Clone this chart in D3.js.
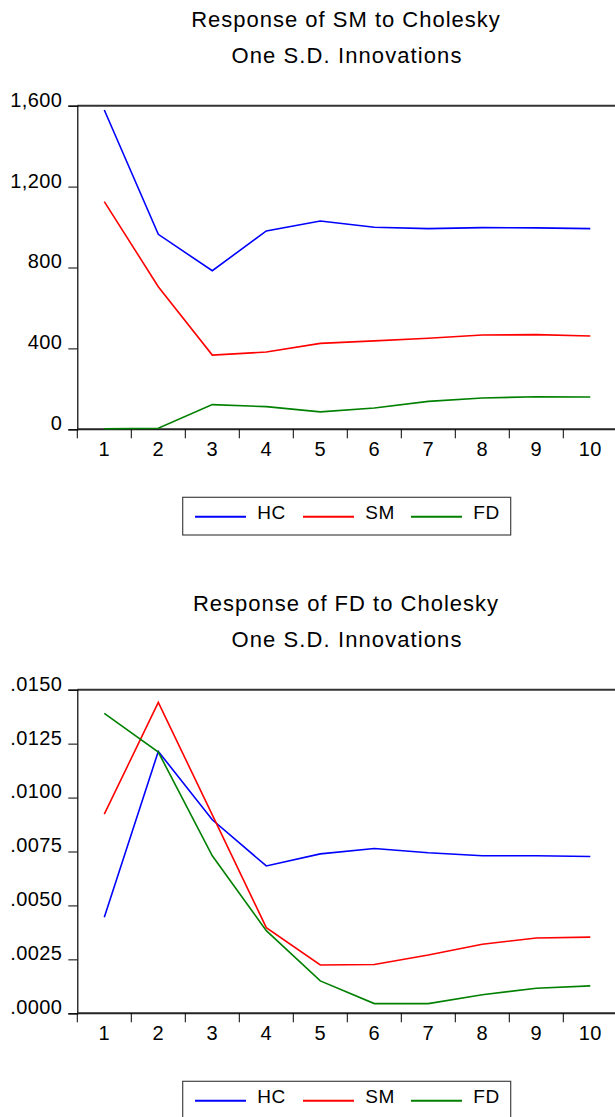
<!DOCTYPE html>
<html>
<head>
<meta charset="utf-8">
<script src="https://cdn.jsdelivr.net/npm/d3@7"></script>
<style>
  html, body { margin: 0; padding: 0; background: #fff; }
  svg { display: block; font-family: "Liberation Sans", Arial, sans-serif; }
</style>
</head>
<body>
<svg id="chart" width="615" height="1117"></svg>
<script>
// periods on the x axis
const periods = [1, 2, 3, 4, 5, 6, 7, 8, 9, 10];
const seriesNames = ['HC', 'SM', 'FD'];
const seriesColors = ['#0000FF', '#FF0000', '#008000'];

// Response of SM
const smHC = [1579, 964, 784, 981, 1030, 999, 992, 997, 996, 992];
const smSM = [1126, 705, 367, 382, 425, 437, 450, 466, 468, 461];
const smFD = [3, 5, 122, 112, 86, 105, 138, 155, 161, 160];
const smTicks = [0, 400, 800, 1200, 1600];

// Response of FD
const fdHC = [0.00445, 0.01214, 0.00897, 0.00683, 0.00739, 0.00764, 0.00744, 0.0073, 0.0073, 0.00727];
const fdSM = [0.00923, 0.01441, 0.0092, 0.00397, 0.00224, 0.00226, 0.0027, 0.0032, 0.00349, 0.00353];
const fdFD = [0.0139, 0.01211, 0.0073, 0.00383, 0.0015, 0.00045, 0.00045, 0.00086, 0.00116, 0.00127];
const fdTicks = [0, 0.0025, 0.005, 0.0075, 0.01, 0.0125, 0.015];

const svg = d3.select('#chart');

function drawPanel(offsetY, cfg) {
  const left = 77.3, right = 617.3, top = 105.7, bottom = 429.3;
  const g = svg.append('g').attr('transform', `translate(0,${offsetY})`);

  const x = d3.scaleBand().domain(periods).range([left, right]);
  const y = d3.scaleLinear().domain(cfg.domain).range([bottom, top]);

  // title
  g.append('text').attr('x', 346).attr('y', 27)
    .attr('text-anchor', 'middle').attr('font-size', '22px').attr('letter-spacing', '1px')
    .attr('fill', '#000').text(cfg.title[0]);
  g.append('text').attr('x', 347).attr('y', 63)
    .attr('text-anchor', 'middle').attr('font-size', '22px').attr('letter-spacing', '1.1px')
    .attr('fill', '#000').text(cfg.title[1]);

  // top frame line
  g.append('line').attr('x1', left).attr('x2', 615).attr('y1', top).attr('y2', top)
    .attr('stroke', '#333').attr('stroke-width', 2);

  // y axis
  g.append('g').attr('transform', `translate(${left},0)`)
    .call(d3.axisLeft(y).tickValues(cfg.ticks).tickSize(9).tickPadding(6).tickFormat(cfg.format))
    .call(a => a.select('.domain').attr('stroke', '#000').attr('stroke-width', 1.2))
    .call(a => a.selectAll('.tick line').attr('stroke', '#000'))
    .call(a => a.selectAll('.tick text').attr('fill', '#000').attr('font-size', '20px')
      .attr('letter-spacing', '0.4px').attr('dy', '0.02em')
      .attr('font-family', '"Liberation Sans", Arial, sans-serif'));

  // x axis: ticks on band boundaries, labels at band centres
  const xAxis = g.append('g').attr('transform', `translate(0,${bottom})`);
  xAxis.append('line').attr('x1', left).attr('x2', 615).attr('stroke', '#222').attr('stroke-width', 2);
  xAxis.selectAll('.xt').data(periods).join('line')
    .attr('x1', d => x(d)).attr('x2', d => x(d))
    .attr('y1', 0).attr('y2', 9).attr('stroke', '#000');
  xAxis.selectAll('.xl').data(periods).join('text')
    .attr('x', d => x(d) + x.bandwidth() / 2).attr('y', 27)
    .attr('text-anchor', 'middle').attr('font-size', '20px').attr('letter-spacing', '0.4px')
    .attr('fill', '#000').text(d => d);

  // lines
  const line = d3.line()
    .x((d, i) => x(periods[i]) + x.bandwidth() / 2)
    .y(d => y(d));
  cfg.series.forEach((vals, i) => {
    g.append('path').datum(vals).attr('d', line)
      .attr('fill', 'none').attr('stroke', seriesColors[i]).attr('stroke-width', 1.6);
  });

  // legend
  const lg = g.append('g').attr('transform', `translate(182.7,${bottom + 68})`);
  lg.append('rect').attr('width', 328).attr('height', 37.7)
    .attr('fill', '#fff').attr('stroke', '#444').attr('stroke-width', 1.2);
  const itemX = d3.scalePoint().domain(seriesNames).range([12.3, 228.3]);
  seriesNames.forEach((name, i) => {
    const ix = itemX(name);
    lg.append('line').attr('x1', ix).attr('x2', ix + 51)
      .attr('y1', 19.4).attr('y2', 19.4)
      .attr('stroke', seriesColors[i]).attr('stroke-width', 2);
    lg.append('text').attr('x', ix + 62.3).attr('y', 22)
      .attr('font-size', '19px').attr('letter-spacing', '0.6px').attr('fill', '#000').text(name);
  });
}

drawPanel(0, {
  title: ['Response of SM to Cholesky', 'One S.D. Innovations'],
  domain: [0, 1600],
  ticks: smTicks,
  format: d3.format(','),
  series: [smHC, smSM, smFD]
});

drawPanel(584, {
  title: ['Response of FD to Cholesky', 'One S.D. Innovations'],
  domain: [0, 0.015],
  ticks: fdTicks,
  format: d => d3.format('.4f')(d).replace(/^0/, ''),
  series: [fdHC, fdSM, fdFD]
});
</script>
</body>
</html>
